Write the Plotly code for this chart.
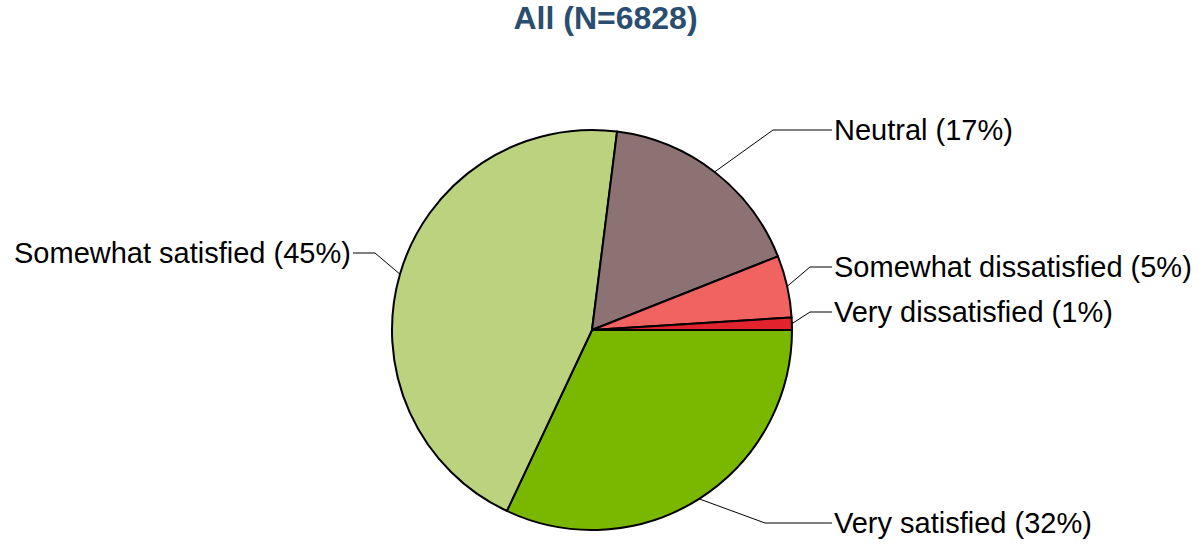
import math
import plotly.graph_objects as go

# data
categories = ["Very satisfied", "Somewhat satisfied", "Neutral",
              "Somewhat dissatisfied", "Very dissatisfied"]
percents = [32, 45, 17, 5, 1]
colors = ["#7AB800", "#BBD37F", "#8D7273", "#F06360", "#E1232E"]
title = "All (N=6828)"

# layout in pixels
W, H = 1199, 545
top, bottom = 130, 15
cx, cy, R = 592, 330, 200
# label text y, elbow x, side for each slice
label_y = [523, 253, 130, 267, 312]
elbow_x = [765, 375, 773, 810, 810]
side = ["r", "l", "r", "r", "r"]
text_right_x, text_left_x = 832, 353

plot_h = H - top - bottom


def px(x):
    return x / W


def py(y):
    return (H - bottom - y) / plot_h


fig = go.Figure(go.Pie(
    labels=categories,
    values=percents,
    sort=False,
    direction="clockwise",
    rotation=90,
    textinfo="none",
    hoverinfo="label+percent",
    marker=dict(colors=colors, line=dict(color="black", width=2)),
    domain=dict(x=[0, 2 * cx / W], y=[0, 1]),
    showlegend=False,
))

total = sum(percents)
shapes = []
annotations = []
cum = 0
for name, v, ly, ex, s in zip(categories, percents, label_y, elbow_x, side):
    mid = (cum + v / 2) / total
    cum += v
    ang = math.radians(mid * 360)
    sx = cx + R * math.cos(ang)
    sy = cy + R * math.sin(ang)
    tx = text_right_x if s == "r" else text_left_x
    path = f"M {px(sx)} {py(sy)} L {px(ex)} {py(ly)} L {px(tx)} {py(ly)}"
    shapes.append(dict(type="path", xref="paper", yref="paper", path=path,
                       line=dict(color="black", width=1)))
    annotations.append(dict(
        text=f"{name} ({v}%)", xref="paper", yref="paper",
        x=px(tx), y=py(ly), xanchor="left" if s == "r" else "right",
        yanchor="middle", showarrow=False,
        font=dict(size=29, color="black"),
    ))

fig.update_layout(
    width=W, height=H,
    margin=dict(l=0, r=0, t=top, b=bottom),
    paper_bgcolor="white",
    plot_bgcolor="white",
    font=dict(family="Arial, Liberation Sans, sans-serif"),
    title=dict(text=f"<b>{title}</b>", x=605.5 / W, xanchor="center",
               y=1 - 17.5 / H, yanchor="middle", yref="container",
               font=dict(size=32, color="#2A4D70")),
    shapes=shapes,
    annotations=annotations,
)

fig.write_html("out.html", config=dict(displayModeBar=False),
               post_script="document.body.style.margin='0';")
